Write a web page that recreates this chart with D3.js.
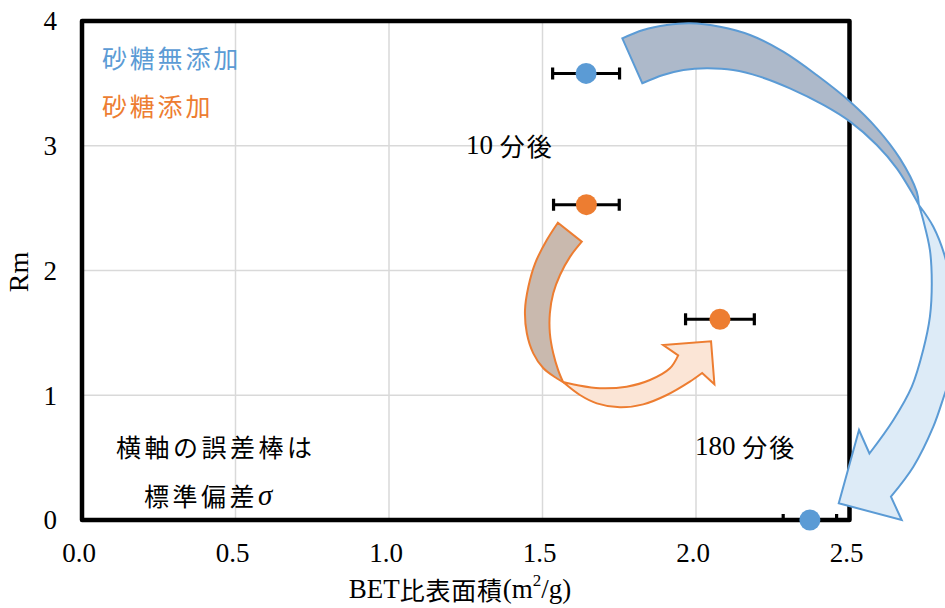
<!DOCTYPE html>
<html>
<head>
<meta charset="utf-8">
<script src="https://cdn.jsdelivr.net/npm/d3@7"></script>
<style>
  html, body { margin: 0; padding: 0; background: #ffffff; }
  svg { display: block; }
</style>
</head>
<body>
<svg id="chart" width="945" height="608"></svg>
<script>
// Rm versus BET specific surface area, with and without added sugar,
// measured 10 min and 180 min after mixing. Horizontal bars = 1 SD.
const seriesNames = ["砂糖無添加", "砂糖添加"];
const timeNumbers = ["10", "180"];
const timeUnit = "分後";
const noteLines = ["横軸の誤差棒は", "標準偏差"];

const noSugarX  = [1.642, 2.371];
const noSugarY  = [3.58, 0.0];
const noSugarSD = [0.109, 0.087];

const sugarX  = [1.643, 2.078];
const sugarY  = [2.528, 1.609];
const sugarSD = [0.107, 0.112];

const xTicks = [0.0, 0.5, 1.0, 1.5, 2.0, 2.5];
const yTicks = [0, 1, 2, 3, 4];

// Curved "time passes" arrows, outlined in data units (BET, Rm).
// Each ribbon twists once: the back face runs from the tail to the twist,
// the front face from the twist to the arrow head.
const noSugarArrowBackOuter = [[1.760,3.861],[1.828,3.928],[1.905,3.968],[1.980,3.982],[2.078,3.954],[2.176,3.888],[2.284,3.754],[2.393,3.567],[2.502,3.353],[2.589,3.140],[2.664,2.899],[2.719,2.632],[2.726,2.525]];
const noSugarArrowBackInner = [[1.825,3.501],[1.893,3.567],[1.959,3.607],[2.035,3.621],[2.121,3.607],[2.208,3.554],[2.306,3.460],[2.415,3.327],[2.502,3.193],[2.589,3.006],[2.654,2.819],[2.708,2.605],[2.726,2.525]];
const noSugarArrowFrontOuter = [[2.726,2.525],[2.773,2.351],[2.811,2.111],[2.840,1.764],[2.850,1.443],[2.837,1.202],[2.811,1.016],[2.773,0.748],[2.708,0.427],[2.635,0.187]];
const noSugarArrowHead = [[2.635,0.187],[2.670,0.0],[2.465,0.134],[2.531,0.721],[2.565,0.533]];
const noSugarArrowFrontInner = [[2.565,0.533],[2.643,0.802],[2.703,1.069],[2.740,1.363],[2.762,1.630],[2.768,1.897],[2.762,2.164],[2.740,2.405],[2.726,2.525]];

const sugarArrowBackOuter = [[1.550,2.383],[1.514,2.244],[1.476,2.058],[1.454,1.870],[1.443,1.683],[1.449,1.497],[1.470,1.336],[1.503,1.216],[1.546,1.136],[1.567,1.106]];
const sugarArrowBackInner = [[1.628,2.231],[1.590,2.111],[1.557,1.964],[1.535,1.817],[1.524,1.657],[1.524,1.497],[1.535,1.336],[1.551,1.202],[1.567,1.106]];
const sugarArrowFrontUpper = [[1.567,1.106],[1.611,1.082],[1.687,1.056],[1.774,1.069],[1.850,1.122],[1.915,1.216],[1.942,1.320]];
const sugarArrowHead = [[1.942,1.320],[1.893,1.403],[2.049,1.432],[2.060,1.088],[2.020,1.178]];
const sugarArrowFrontLower = [[2.020,1.178],[1.980,1.109],[1.905,1.002],[1.828,0.927],[1.752,0.903],[1.677,0.935],[1.622,1.002],[1.567,1.106]];

const BLUE = "#5b9bd5";
const ORANGE = "#ed7d31";
const SERIF = "'Liberation Serif', 'Times New Roman', serif";
const GOTHIC = "'Noto Sans CJK JP', 'Noto Sans', sans-serif";

const svg = d3.select("#chart");
const plot = { left: 82, right: 849.5, top: 21, bottom: 520 };

const x = d3.scaleLinear().domain([0, 2.5]).range([plot.left, plot.right]);
const y = d3.scaleLinear().domain([0, 4]).range([plot.bottom, plot.top]);

svg.append("defs").append("clipPath").attr("id", "plot-clip")
  .append("rect")
  .attr("x", plot.left).attr("y", plot.top)
  .attr("width", plot.right - plot.left).attr("height", plot.bottom - plot.top);

// gridlines
const grid = svg.append("g");
grid.selectAll("line.vx").data(xTicks.filter(t => t > 0 && t < 2.5)).join("line")
  .attr("x1", d => x(d)).attr("x2", d => x(d))
  .attr("y1", plot.top).attr("y2", plot.bottom)
  .attr("stroke", "#d9d9d9").attr("stroke-width", 1.5);
grid.selectAll("line.hy").data(yTicks.filter(t => t > 0 && t < 4)).join("line")
  .attr("x1", plot.left).attr("x2", plot.right)
  .attr("y1", d => y(d)).attr("y2", d => y(d))
  .attr("stroke", "#d9d9d9").attr("stroke-width", 1.5);

// axes (labels only; the frame is drawn separately)
const xAxis = d3.axisBottom(x).tickValues(xTicks).tickFormat(d3.format(".1f")).tickSize(0).tickPadding(0);
const gx = svg.append("g").attr("transform", `translate(-3.5,${plot.bottom})`).call(xAxis);
gx.select(".domain").remove();
gx.selectAll("text").attr("y", 33).attr("dy", "0.35em")
  .style("font-family", SERIF).style("font-size", "27px").attr("fill", "#000");

const yAxis = d3.axisLeft(y).tickValues(yTicks).tickFormat(d3.format("d")).tickSize(0).tickPadding(0);
const gy = svg.append("g").attr("transform", `translate(${plot.left - 25},0)`).call(yAxis);
gy.select(".domain").remove();
gy.selectAll("text").attr("dy", "0.33em")
  .style("font-family", SERIF).style("font-size", "27px").attr("fill", "#000");

// error bars (clipped to plot area)
function errorBars(xs, ys, sds) {
  const g = svg.append("g").attr("clip-path", "url(#plot-clip)");
  const rows = xs.map((v, i) => ({ x: v, y: ys[i], sd: sds[i] }));
  g.selectAll("line.bar").data(rows).join("line")
    .attr("x1", d => x(d.x - d.sd)).attr("x2", d => x(d.x + d.sd))
    .attr("y1", d => y(d.y)).attr("y2", d => y(d.y))
    .attr("stroke", "#000").attr("stroke-width", 3);
  ["lo", "hi"].forEach(side => {
    g.selectAll("line.cap-" + side).data(rows).join("line")
      .attr("x1", d => x(side === "lo" ? d.x - d.sd : d.x + d.sd))
      .attr("x2", d => x(side === "lo" ? d.x - d.sd : d.x + d.sd))
      .attr("y1", d => y(d.y) - 6).attr("y2", d => y(d.y) + 6)
      .attr("stroke", "#000").attr("stroke-width", 3.2);
  });
}
errorBars(noSugarX, noSugarY, noSugarSD);
errorBars(sugarX, sugarY, sugarSD);

// plot frame
svg.append("rect")
  .attr("x", plot.left).attr("y", plot.top)
  .attr("width", plot.right - plot.left).attr("height", plot.bottom - plot.top)
  .attr("fill", "none").attr("stroke", "#000").attr("stroke-width", 4.5)
  .attr("stroke-linejoin", "round");

// ribbon arrows
const smooth = d3.line().x(d => x(d[0])).y(d => y(d[1])).curve(d3.curveCatmullRom.alpha(0.5));
const straight = d3.line().x(d => x(d[0])).y(d => y(d[1]));
function outline(pieces) {
  return pieces.map((p, i) => {
    const s = (p.smooth ? smooth : straight)(p.pts);
    return i === 0 ? s : "L" + s.slice(1);
  }).join("") + "Z";
}
function ribbonArrow(back, front, backFill, frontFill, stroke) {
  const g = svg.append("g");
  g.append("path").attr("d", outline(back))
    .attr("fill", backFill).attr("stroke", stroke).attr("stroke-width", 2).attr("stroke-linejoin", "miter");
  g.append("path").attr("d", outline(front))
    .attr("fill", frontFill).attr("stroke", stroke).attr("stroke-width", 2).attr("stroke-linejoin", "miter");
}

ribbonArrow(
  [{ smooth: true, pts: noSugarArrowBackOuter }, { smooth: true, pts: noSugarArrowBackInner.slice().reverse() }],
  [{ smooth: true, pts: noSugarArrowFrontOuter }, { smooth: false, pts: noSugarArrowHead }, { smooth: true, pts: noSugarArrowFrontInner }],
  "#adb9ca", "#ddebf7", BLUE);

ribbonArrow(
  [{ smooth: true, pts: sugarArrowBackOuter }, { smooth: true, pts: sugarArrowBackInner.slice().reverse() }],
  [{ smooth: true, pts: sugarArrowFrontUpper }, { smooth: false, pts: sugarArrowHead }, { smooth: true, pts: sugarArrowFrontLower }],
  "#c9b9ae", "#fbe5d6", ORANGE);

// markers
function markers(xs, ys, color) {
  svg.append("g").selectAll("circle").data(xs.map((v, i) => [v, ys[i]])).join("circle")
    .attr("cx", d => x(d[0])).attr("cy", d => y(d[1])).attr("r", 10.5)
    .attr("fill", color);
}
markers(noSugarX, noSugarY, BLUE);
markers(sugarX, sugarY, ORANGE);

// series labels
const legend = svg.append("g").style("font-family", GOTHIC).style("font-size", "25px")
  .style("letter-spacing", "2.8px").attr("dominant-baseline", "central");
legend.append("text").attr("x", 102).attr("y", 57).attr("fill", BLUE).text(seriesNames[0]);
legend.append("text").attr("x", 102).attr("y", 105).attr("fill", ORANGE).text(seriesNames[1]);

// elapsed-time annotations
function timeNote(px, py, num) {
  const t = svg.append("text").attr("x", px).attr("y", py)
    .attr("dominant-baseline", "central").attr("fill", "#000");
  t.append("tspan").style("font-family", SERIF).style("font-size", "27px").text(num + " ");
  t.append("tspan").style("font-family", GOTHIC).style("font-size", "25px")
    .style("letter-spacing", "2px").text(timeUnit);
}
timeNote(466, 145, timeNumbers[0]);
timeNote(695, 446, timeNumbers[1]);

// note on the error bars
const note = svg.append("g").style("font-family", GOTHIC).style("font-size", "25px")
  .style("letter-spacing", "3.5px").attr("dominant-baseline", "central").attr("fill", "#000");
note.append("text").attr("x", 116).attr("y", 446).text(noteLines[0]);
const n2 = note.append("text").attr("x", 144).attr("y", 495);
n2.append("tspan").text(noteLines[1]);
n2.append("tspan").style("font-family", SERIF).style("font-style", "italic")
  .style("font-size", "29px").text("σ");

// axis titles
const xt = svg.append("text").attr("x", 460).attr("y", 589).attr("text-anchor", "middle")
  .attr("dominant-baseline", "central").attr("fill", "#000");
xt.append("tspan").style("font-family", SERIF).style("font-size", "27px").text("BET");
xt.append("tspan").style("font-family", GOTHIC).style("font-size", "25px")
  .style("letter-spacing", "0.8px").text("比表面積");
xt.append("tspan").style("font-family", SERIF).style("font-size", "27px").text("(m");
xt.append("tspan").attr("dy", -9).style("font-family", SERIF).style("font-size", "17px").text("2");
xt.append("tspan").attr("dy", 9).style("font-family", SERIF).style("font-size", "27px").text("/g)");

svg.append("text")
  .attr("transform", "translate(18,272) rotate(-90)")
  .attr("text-anchor", "middle").attr("dominant-baseline", "central")
  .style("font-family", SERIF).style("font-size", "28px").attr("fill", "#000").text("Rm");
</script>
</body>
</html>
